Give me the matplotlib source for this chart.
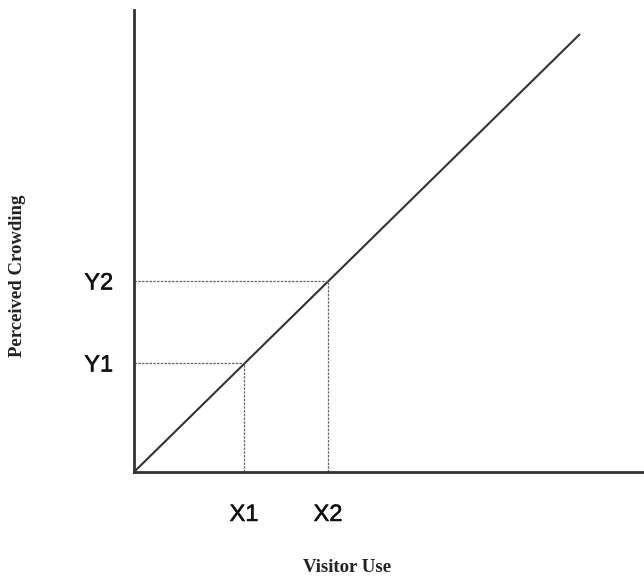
import matplotlib.pyplot as plt
import matplotlib.patheffects as pe

# line and guide positions (in arbitrary use / crowding units)
line_x = [0, 446]
line_y = [0, 438]
x_marks = [110, 194]
y_marks = [109, 191]
x_labels = ["X1", "X2"]
y_labels = ["Y1", "Y2"]

fig = plt.figure(figsize=(6.44, 5.76), dpi=100)
ax = fig.add_axes([134 / 644, 104 / 576, 510 / 644, 462 / 576])
ax.set_xlim(0, 510)
ax.set_ylim(0, 462)

ax.plot(line_x, line_y, color="#333333", lw=1.5, solid_capstyle="butt")

# dotted guides from the line to each axis
for xm, ym in zip(x_marks, y_marks):
    ax.plot([xm, xm], [0, ym], color="#666666", lw=0.9, ls=(0, (2, 1)))
    ax.plot([0, xm], [ym, ym], color="#666666", lw=0.9, ls=(0, (2, 1)))

for s in ["top", "right"]:
    ax.spines[s].set_visible(False)
for s in ["left", "bottom"]:
    ax.spines[s].set_linewidth(2)
    ax.spines[s].set_color("#333333")

ax.set_xticks(x_marks, x_labels, fontsize=17, family="Liberation Sans", color="#111111")
ax.set_yticks(y_marks, y_labels, fontsize=17, family="Liberation Sans", color="#111111")
ax.tick_params(axis="x", length=0, pad=23)
ax.tick_params(axis="y", length=0, pad=15)
# the scanned labels look a touch heavier than regular weight
for t in ax.get_xticklabels() + ax.get_yticklabels():
    t.set_path_effects([pe.withStroke(linewidth=0.4, foreground="#111111")])

fig.text(347 / 644, 1 - 567 / 576, "Visitor Use", ha="center", va="center",
         family="Liberation Serif", weight="bold", fontsize=13.5, color="#222222")
fig.text(18 / 644, 1 - 276 / 576, "Perceived Crowding", ha="center", va="center",
         rotation=90, family="Liberation Serif", weight="bold", fontsize=13.5, color="#222222")

fig.savefig("out.png", dpi=100)
